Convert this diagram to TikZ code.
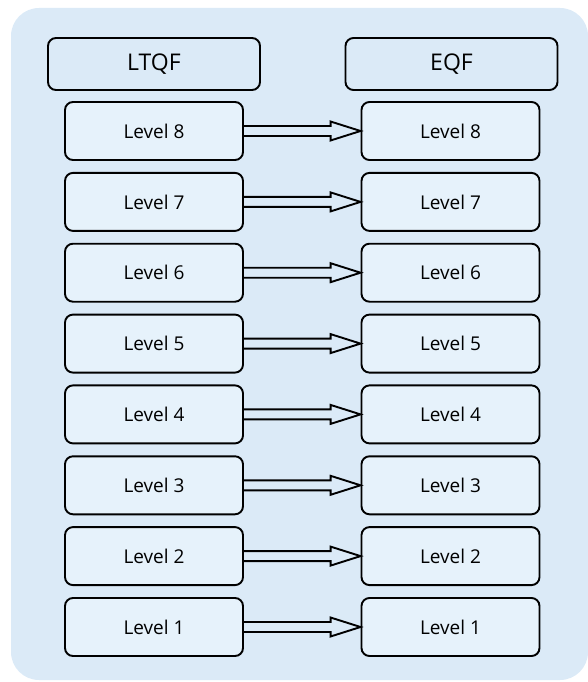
\documentclass[tikz,border=0pt]{standalone}
\usepackage{fontspec}
\setmainfont{Open Sans}
\usetikzlibrary{calc}

\definecolor{panelblue}{RGB}{219,234,247}
\definecolor{levelblue}{RGB}{230,242,251}

\tikzset{
  framehead/.style={shape=rectangle,rounded corners=8pt,draw=black,line width=1.9pt,
    fill=panelblue,minimum width=212pt,minimum height=52pt,
    font=\fontsize{23}{27}\selectfont},
  levelbox/.style={shape=rectangle,rounded corners=8pt,draw=black,line width=1.9pt,
    fill=levelblue,minimum width=178pt,minimum height=58pt,
    font=\fontsize{19}{23}\selectfont},
  hollowarrow/.style={draw=black,line width=1.9pt,line join=miter,
    to path={($(\tikztostart)+(0,-5)$) -- ($(\tikztotarget)+(-30,-5)$)
      -- ($(\tikztotarget)+(-30,-9.5)$) -- (\tikztotarget)
      -- ($(\tikztotarget)+(-30,9.5)$) -- ($(\tikztotarget)+(-30,5)$)
      -- ($(\tikztostart)+(0,5)$)}}
}

\begin{document}
\begin{tikzpicture}[x=1pt,y=-1pt]

\useasboundingbox (0,0) rectangle (588,682);
\fill[panelblue,rounded corners=28pt] (11,8) rectangle (588,680);

% headings
\node[framehead] (LTQF) at (154,64) {LTQF};
\node[framehead] (EQF) at (451.5,64) {EQF};

% LTQF levels
\node[levelbox] (L8) at (154,131) {Level 8};
\node[levelbox] (L7) at (154,201.9) {Level 7};
\node[levelbox] (L6) at (154,272.7) {Level 6};
\node[levelbox] (L5) at (154,343.6) {Level 5};
\node[levelbox] (L4) at (154,414.4) {Level 4};
\node[levelbox] (L3) at (154,485.3) {Level 3};
\node[levelbox] (L2) at (154,556.1) {Level 2};
\node[levelbox] (L1) at (154,627) {Level 1};

% EQF levels
\node[levelbox] (E8) at (450.5,131) {Level 8};
\node[levelbox] (E7) at (450.5,201.9) {Level 7};
\node[levelbox] (E6) at (450.5,272.7) {Level 6};
\node[levelbox] (E5) at (450.5,343.6) {Level 5};
\node[levelbox] (E4) at (450.5,414.4) {Level 4};
\node[levelbox] (E3) at (450.5,485.3) {Level 3};
\node[levelbox] (E2) at (450.5,556.1) {Level 2};
\node[levelbox] (E1) at (450.5,627) {Level 1};

\path[hollowarrow] (L8.east) to (E8.west);
\path[hollowarrow] (L7.east) to (E7.west);
\path[hollowarrow] (L6.east) to (E6.west);
\path[hollowarrow] (L5.east) to (E5.west);
\path[hollowarrow] (L4.east) to (E4.west);
\path[hollowarrow] (L3.east) to (E3.west);
\path[hollowarrow] (L2.east) to (E2.west);
\path[hollowarrow] (L1.east) to (E1.west);

\end{tikzpicture}
\end{document}
